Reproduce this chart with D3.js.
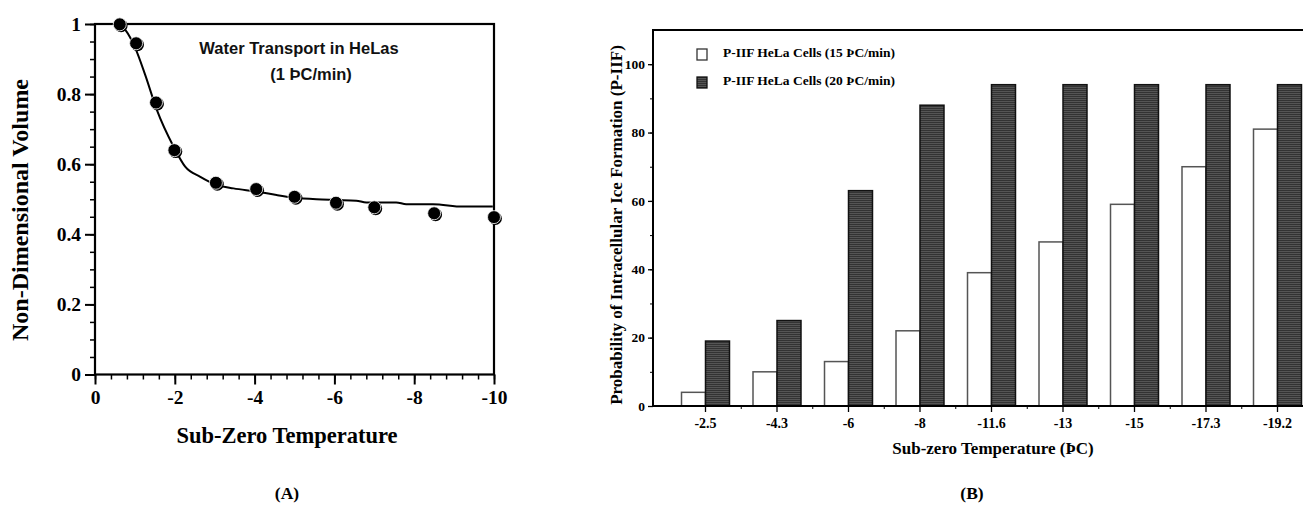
<!DOCTYPE html>
<html>
<head>
<meta charset="utf-8">
<script src="https://cdn.jsdelivr.net/npm/d3@7"></script>
<style>
  html, body { margin: 0; padding: 0; background: #fff; }
  #chart { width: 1303px; height: 508px; }
</style>
</head>
<body>
<div id="chart"></div>
<script>
// Panel A: water transport data (temperature in degC, non-dimensional volume)
const volTemps = [-0.62, -1.03, -1.53, -1.99, -3.03, -4.04, -5.0, -6.04, -7.0, -8.5, -10.0];
const volValues = [0.999, 0.945, 0.776, 0.640, 0.547, 0.529, 0.507, 0.490, 0.477, 0.460, 0.449];
const fitTemps = [-0.62, -0.76, -1.01, -1.26, -1.55, -1.97, -2.26, -2.64, -3.05, -3.47, -4.05, -4.55, -4.97, -5.55, -6.05, -6.55, -6.8, -7.55, -7.8, -8.47, -9.22, -9.97];
const fitValues = [0.999, 0.983, 0.931, 0.854, 0.755, 0.650, 0.593, 0.564, 0.541, 0.531, 0.522, 0.512, 0.505, 0.500, 0.498, 0.496, 0.491, 0.491, 0.486, 0.486, 0.479, 0.479];
const volXTicks = [0, -2, -4, -6, -8, -10];
const volYTicks = [0, 0.2, 0.4, 0.6, 0.8, 1];

// Panel B: probability of intracellular ice formation
const piifCategories = ['-2.5', '-4.3', '-6', '-8', '-11.6', '-13', '-15', '-17.3', '-19.2'];
const piif15 = [4, 10, 13, 22, 39, 48, 59, 70, 81];
const piif20 = [19, 25, 63, 88, 94, 94, 94, 94, 94];
const piifSeries = ['P-IIF HeLa Cells (15 ÞC/min)', 'P-IIF HeLa Cells (20 ÞC/min)'];
const piifYTicks = [0, 20, 40, 60, 80, 100];

const serif = '"Liberation Serif", "Times New Roman", serif';
const sans = '"Liberation Sans", Arial, sans-serif';

const svg = d3.select('#chart').append('svg')
  .attr('width', 1303)
  .attr('height', 508);

const defs = svg.append('defs');
const hatch = defs.append('pattern')
  .attr('id', 'dark-lines')
  .attr('patternUnits', 'userSpaceOnUse')
  .attr('width', 4)
  .attr('height', 2);
hatch.append('rect').attr('width', 4).attr('height', 2).attr('fill', '#555');
hatch.append('rect').attr('width', 4).attr('height', 1).attr('fill', '#333');

// ---------- Panel A ----------
function drawVolume() {
  const left = 95, right = 494, top = 24, bottom = 374.5;
  const x = d3.scaleLinear().domain([0, -10]).range([left, right]);
  const y = d3.scaleLinear().domain([0, 1]).range([bottom, top]);
  const g = svg.append('g');

  // minor ticks
  g.append('g')
    .attr('transform', `translate(0,${bottom})`)
    .call(d3.axisBottom(x).tickValues(d3.range(0, -10.01, -0.4)).tickSize(5).tickFormat(''))
    .call(a => a.select('.domain').remove())
    .call(a => a.selectAll('line').attr('stroke-width', 1.5));
  g.append('g')
    .attr('transform', `translate(${left},0)`)
    .call(d3.axisLeft(y).tickValues(d3.range(0, 1.001, 0.05)).tickSize(5).tickFormat(''))
    .call(a => a.select('.domain').remove())
    .call(a => a.selectAll('line').attr('stroke-width', 1.5));

  // major ticks (plain hyphen for negatives, as in the original)
  g.append('g')
    .attr('transform', `translate(0,${bottom})`)
    .call(d3.axisBottom(x).tickValues(volXTicks).tickSize(10).tickPadding(6).tickFormat(d => String(d)))
    .call(a => a.select('.domain').remove())
    .call(a => a.selectAll('line').attr('stroke-width', 2))
    .call(a => a.selectAll('text')
      .attr('font-family', serif).attr('font-weight', 'bold')
      .attr('font-size', 19.5).attr('fill', '#000'));
  g.append('g')
    .attr('transform', `translate(${left},0)`)
    .call(d3.axisLeft(y).tickValues(volYTicks).tickSize(10).tickPadding(4).tickFormat(d => d))
    .call(a => a.select('.domain').remove())
    .call(a => a.selectAll('line').attr('stroke-width', 2))
    .call(a => a.selectAll('text')
      .attr('font-family', serif).attr('font-weight', 'bold')
      .attr('font-size', 19.5).attr('fill', '#000'));

  g.append('rect')
    .attr('x', left).attr('y', top)
    .attr('width', right - left).attr('height', bottom - top)
    .attr('fill', 'none').attr('stroke', '#000').attr('stroke-width', 2.2);

  const line = d3.line()
    .x((d, i) => x(fitTemps[i]))
    .y(d => y(d))
    .curve(d3.curveMonotoneX);
  g.append('path')
    .datum(fitValues)
    .attr('d', line)
    .attr('fill', 'none')
    .attr('stroke', '#000')
    .attr('stroke-width', 2);

  const dots = g.selectAll('.dot')
    .data(volValues)
    .join('g')
      .attr('class', 'dot')
      .attr('transform', (d, i) => `translate(${x(volTemps[i])},${y(d)})`);
  dots.append('circle').attr('cx', 1.4).attr('cy', 1.4).attr('r', 6.5).attr('fill', '#000');
  dots.append('circle').attr('r', 6.5).attr('fill', '#000')
    .attr('stroke', '#fff').attr('stroke-width', 0.8);

  g.append('text')
    .attr('x', 299).attr('y', 54)
    .attr('text-anchor', 'middle')
    .attr('font-family', sans).attr('font-weight', 'bold').attr('font-size', 16.5)
    .attr('fill', '#111')
    .text('Water Transport in HeLas');
  g.append('text')
    .attr('x', 311).attr('y', 80)
    .attr('text-anchor', 'middle')
    .attr('font-family', sans).attr('font-weight', 'bold').attr('font-size', 16.5)
    .attr('fill', '#111')
    .text('(1 ÞC/min)');

  g.append('text')
    .attr('x', 287).attr('y', 443)
    .attr('text-anchor', 'middle')
    .attr('font-family', serif).attr('font-weight', 'bold').attr('font-size', 22.5)
    .text('Sub-Zero Temperature');
  g.append('text')
    .attr('transform', `translate(28,210) rotate(-90)`)
    .attr('text-anchor', 'middle')
    .attr('font-family', serif).attr('font-weight', 'bold').attr('font-size', 24)
    .text('Non-Dimensional Volume');

  g.append('text')
    .attr('x', 287).attr('y', 499)
    .attr('text-anchor', 'middle')
    .attr('font-family', serif).attr('font-weight', 'bold').attr('font-size', 17.5)
    .text('(A)');
}

// ---------- Panel B ----------
function drawPiif() {
  const left = 653, top = 30, bottom = 406;
  const bandStart = 669.75, bandEnd = 1313.25;
  const x0 = d3.scaleBand().domain(piifCategories).range([bandStart, bandEnd]).padding(0);
  const x1 = d3.scaleBand().domain([0, 1]).range([0, x0.bandwidth()]).paddingInner(0).paddingOuter(0.49);
  const y = d3.scaleLinear().domain([0, 110]).range([bottom, top]);
  const right = bandEnd + (bandStart - left);
  const g = svg.append('g');

  const rows = piifCategories.map((c, i) => ({ cat: c, vals: [piif15[i], piif20[i]] }));
  const groups = g.selectAll('.cat')
    .data(rows)
    .join('g')
      .attr('class', 'cat')
      .attr('transform', d => `translate(${x0(d.cat)},0)`);
  groups.selectAll('rect')
    .data(d => d.vals.map((v, k) => ({ k, v })))
    .join('rect')
      .attr('x', d => x1(d.k))
      .attr('y', d => y(d.v))
      .attr('width', x1.bandwidth())
      .attr('height', d => bottom - y(d.v))
      .attr('fill', d => d.k === 0 ? '#fff' : 'url(#dark-lines)')
      .attr('stroke', d => d.k === 0 ? '#555' : '#111')
      .attr('stroke-width', 1.5);

  // axes
  g.append('g')
    .attr('transform', `translate(${left},0)`)
    .call(d3.axisLeft(y).tickValues(d3.range(0, 110, 10)).tickSize(3).tickFormat(''))
    .call(a => a.select('.domain').remove());
  g.append('g')
    .attr('transform', `translate(${left},0)`)
    .call(d3.axisLeft(y).tickValues(piifYTicks).tickSize(5).tickPadding(3).tickFormat(d3.format('d')))
    .call(a => a.select('.domain').remove())
    .call(a => a.selectAll('line').attr('stroke-width', 1.3))
    .call(a => a.selectAll('text')
      .attr('font-family', serif).attr('font-weight', 'bold')
      .attr('font-size', 13.5).attr('fill', '#000'));

  const boundaries = piifCategories.slice(1).map(c => x0(c));
  g.selectAll('.btick')
    .data(boundaries)
    .join('line')
      .attr('x1', d => d).attr('x2', d => d)
      .attr('y1', bottom).attr('y2', bottom + 3)
      .attr('stroke', '#000');
  g.append('g')
    .attr('transform', `translate(0,${bottom})`)
    .call(d3.axisBottom(x0).tickSize(6).tickPadding(6))
    .call(a => a.select('.domain').remove())
    .call(a => a.selectAll('line').attr('stroke-width', 1.3))
    .call(a => a.selectAll('text')
      .attr('font-family', serif).attr('font-weight', 'bold')
      .attr('font-size', 14).attr('fill', '#000'));

  g.append('path')
    .attr('d', `M${right},${top}H${left}V${bottom}H${right}`)
    .attr('fill', 'none')
    .attr('stroke', '#000')
    .attr('stroke-width', 2);

  // legend
  const legend = g.selectAll('.legend')
    .data(piifSeries)
    .join('g')
      .attr('class', 'legend')
      .attr('transform', (d, i) => `translate(697,${49 + i * 28})`);
  legend.append('rect')
    .attr('width', 10).attr('height', 11)
    .attr('fill', (d, i) => i === 0 ? '#fff' : 'url(#dark-lines)')
    .attr('stroke', (d, i) => i === 0 ? '#333' : '#111')
    .attr('stroke-width', 1.3);
  legend.append('text')
    .attr('x', 26).attr('y', 8)
    .attr('font-family', serif).attr('font-weight', 'bold').attr('font-size', 13.5)
    .text(d => d);

  g.append('text')
    .attr('x', 993).attr('y', 454)
    .attr('text-anchor', 'middle')
    .attr('font-family', serif).attr('font-weight', 'bold').attr('font-size', 17)
    .text('Sub-zero Temperature (ÞC)');
  g.append('text')
    .attr('transform', `translate(622,225) rotate(-90)`)
    .attr('text-anchor', 'middle')
    .attr('font-family', serif).attr('font-weight', 'bold').attr('font-size', 17)
    .text('Probability of Intracellular Ice Formation (P-IIF)');

  g.append('text')
    .attr('x', 972).attr('y', 499)
    .attr('text-anchor', 'middle')
    .attr('font-family', serif).attr('font-weight', 'bold').attr('font-size', 17.5)
    .text('(B)');
}

drawVolume();
drawPiif();
</script>
</body>
</html>
